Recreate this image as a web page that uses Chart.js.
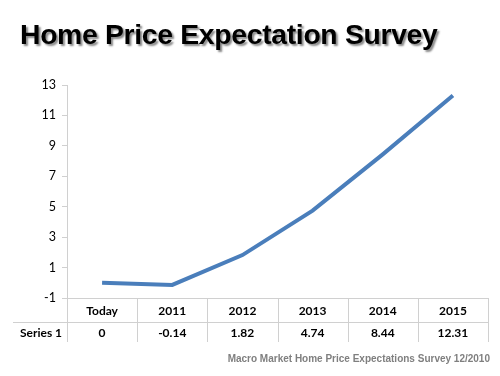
<!DOCTYPE html>
<html>
<head>
<meta charset="utf-8">
<script src="https://cdn.jsdelivr.net/npm/chart.js@4"></script>
<style>
  html, body { margin: 0; padding: 0; background: #fff; }
  #wrap { position: relative; width: 500px; height: 376px; overflow: hidden; }
  #title {
    position: absolute; left: 20px; top: 18px;
    font: bold 28.3px "Liberation Sans", Arial, sans-serif;
    color: #000; white-space: nowrap; letter-spacing: -0.3px;
    text-shadow: 2px 2px 2px #888;
  }
  #source {
    position: absolute; right: 10px; top: 353px;
    font: bold 10px "Liberation Sans", Arial, sans-serif;
    color: #7f7f7f; white-space: nowrap;
  }
  canvas { position: absolute; left: 0; top: 0; }
</style>
</head>
<body>
<div id="wrap">
  <canvas id="chart" width="500" height="376"></canvas>
  <div id="title">Home Price Expectation Survey</div>
  <div id="source">Macro Market Home Price Expectations Survey 12/2010</div>
</div>
<script>
{
  // chart data
  const categories = ['Today', '2011', '2012', '2013', '2014', '2015'];
  const seriesName = 'Series 1';
  const seriesValues = [0, -0.14, 1.82, 4.74, 8.44, 12.31];
  const valueLabels = ['0', '-0.14', '1.82', '4.74', '8.44', '12.31'];

  const tableFont = 'bold 12px Lato, "Open Sans", sans-serif';
  const lineGray = '#d0d0d0';

  // data table drawn under the plot, columns follow the x scale
  const dataTable = {
    id: 'dataTable',
    afterDraw(chart) {
      const ctx = chart.ctx;
      const x = chart.scales.x;
      const area = chart.chartArea;
      const top = area.bottom;
      const mid = top + 24;
      const bottom = mid + 20;
      const half = (area.right - area.left) / categories.length / 2;

      ctx.save();
      ctx.strokeStyle = lineGray;
      ctx.lineWidth = 1;
      ctx.beginPath();
      ctx.moveTo(area.left, top + 0.5);
      ctx.lineTo(area.right, top + 0.5);
      ctx.moveTo(13, mid + 0.5);
      ctx.lineTo(area.right, mid + 0.5);
      ctx.moveTo(Math.round(area.left) + 0.5, top);
      ctx.lineTo(Math.round(area.left) + 0.5, bottom);
      categories.forEach((c, i) => {
        const edge = Math.round(x.getPixelForValue(i) + half) + 0.5;
        ctx.moveTo(edge, top);
        ctx.lineTo(edge, bottom);
      });
      ctx.stroke();

      ctx.fillStyle = '#000';
      ctx.font = tableFont;
      ctx.textAlign = 'center';
      ctx.textBaseline = 'middle';
      categories.forEach((c, i) => {
        const cx = x.getPixelForValue(i);
        ctx.fillText(c, cx, (top + mid) / 2 + 1);
        ctx.fillText(valueLabels[i], cx, (mid + bottom) / 2 + 1);
      });
      ctx.fillText(seriesName, 41, (mid + bottom) / 2 + 1);
      ctx.restore();
    }
  };

  new Chart(document.getElementById('chart'), {
    type: 'line',
    data: {
      labels: categories,
      datasets: [{
        label: seriesName,
        data: seriesValues,
        borderColor: '#4a7ebb',
        borderWidth: 4,
        pointRadius: 0,
        tension: 0
      }]
    },
    options: {
      responsive: false,
      animation: false,
      layout: { padding: { left: 0, right: 12, top: 85, bottom: 78 } },
      plugins: {
        legend: { display: false },
        tooltip: { enabled: false }
      },
      scales: {
        x: {
          display: false,
          offset: true
        },
        y: {
          min: -1,
          max: 13,
          afterFit(scale) { scale.width = 67; },
          ticks: {
            stepSize: 2,
            color: '#000',
            padding: 6,
            font: { family: 'Lato, "Open Sans", sans-serif', size: 12.5 }
          },
          border: { color: lineGray },
          grid: {
            color: c => (c.tick && c.tick.value === 0) ? lineGray : 'rgba(0,0,0,0)',
            tickColor: lineGray,
            tickLength: 5
          }
        }
      }
    },
    plugins: [dataTable]
  });
}
</script>
</body>
</html>
